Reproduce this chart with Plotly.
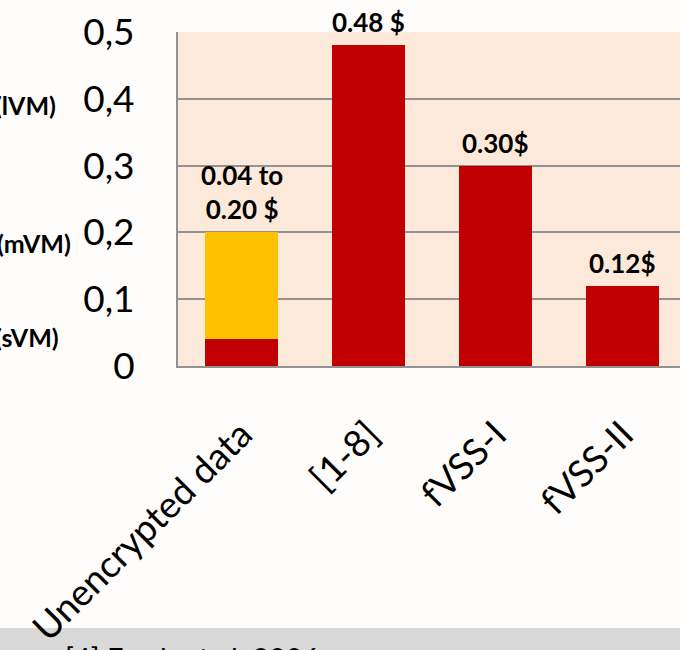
import plotly.graph_objects as go

# Cost per scheme (USD)
categories = ["Unencrypted data", "[1-8]", "fVSS-I", "fVSS-II"]
base_cost = [0.04, 0.48, 0.30, 0.12]
range_top = [0.20, None, None, None]
value_labels = ["0.04 to<br>0.20 $", "0.48 $", "0.30$", "0.12$"]
y_ticks = [0, 0.1, 0.2, 0.3, 0.4, 0.5]
y_tick_text = ["0", "0,1", "0,2", "0,3", "0,4", "0,5"]
vm_labels = ["(lVM)", "(mVM)", "(sVM)"]
vm_levels = [0.39, 0.184, 0.043]
vm_right_px = [58, 73, 61]
footnote = "[4] Fresh et al. 2006"

FONT = "Lato, Carlito, 'Open Sans', sans-serif"
RED = "#C00000"
YELLOW = "#FFC000"
L, W, H = 178, 502, 334  # plot-area left edge, width and height in px

extra = [(t - b) if t is not None else 0 for t, b in zip(range_top, base_cost)]

fig = go.Figure()
fig.add_trace(go.Bar(x=categories, y=base_cost, marker_color=RED, width=0.575,
                     marker_line_width=0, hoverinfo="skip"))
fig.add_trace(go.Bar(x=categories, y=extra, marker_color=YELLOW, width=0.575,
                     marker_line_width=0, hoverinfo="skip"))

# value labels above each bar
for cat, b, t, lab in zip(categories, base_cost, range_top, value_labels):
    top = t if t is not None else b
    fig.add_annotation(x=cat, y=top, text=f"<b>{lab}</b>", showarrow=False,
                       yanchor="bottom", yshift=5,
                       font=dict(family=FONT, size=26, color="black"))

# VM size labels on the left
for lab, lvl, px in zip(vm_labels, vm_levels, vm_right_px):
    fig.add_annotation(xref="paper", x=(px - L) / W, yref="y", y=lvl,
                       text=f"<b>{lab}</b>", showarrow=False, xanchor="right",
                       font=dict(family=FONT, size=25, color="black"))

# footnote band
fig.add_shape(type="rect", xref="paper", yref="paper", x0=-1, x1=2,
              y0=-290 / H, y1=-262 / H, fillcolor="#D9D9D9", line_width=0, layer="below")
fig.add_annotation(xref="paper", yref="paper", x=(63 - L) / W, y=-272 / H,
                   text=footnote, showarrow=False, xanchor="left", yanchor="top",
                   font=dict(family=FONT, size=29, color="black"))

fig.update_layout(
    width=680, height=650,
    margin=dict(l=L, r=0, t=32, b=284, autoexpand=False),
    barmode="stack",
    showlegend=False,
    paper_bgcolor="#FEFDFB",
    plot_bgcolor="#FDE9D9",
    font=dict(family=FONT, color="black"),
)
fig.update_xaxes(range=[-0.5, 3.45], tickangle=-45, showgrid=False, automargin=False,
                 showline=True, linecolor="#929292", linewidth=2,
                 tickfont=dict(family=FONT, size=37), ticklabelstandoff=30)
fig.update_yaxes(range=[0, 0.5], tickvals=y_ticks, ticktext=y_tick_text,
                 showgrid=True, gridcolor="#929292", gridwidth=2, automargin=False,
                 showline=True, linecolor="#929292", linewidth=2, mirror=False,
                 zeroline=False, tickfont=dict(family=FONT, size=37),
                 ticklabelstandoff=34)

fig.write_html("out.html")
